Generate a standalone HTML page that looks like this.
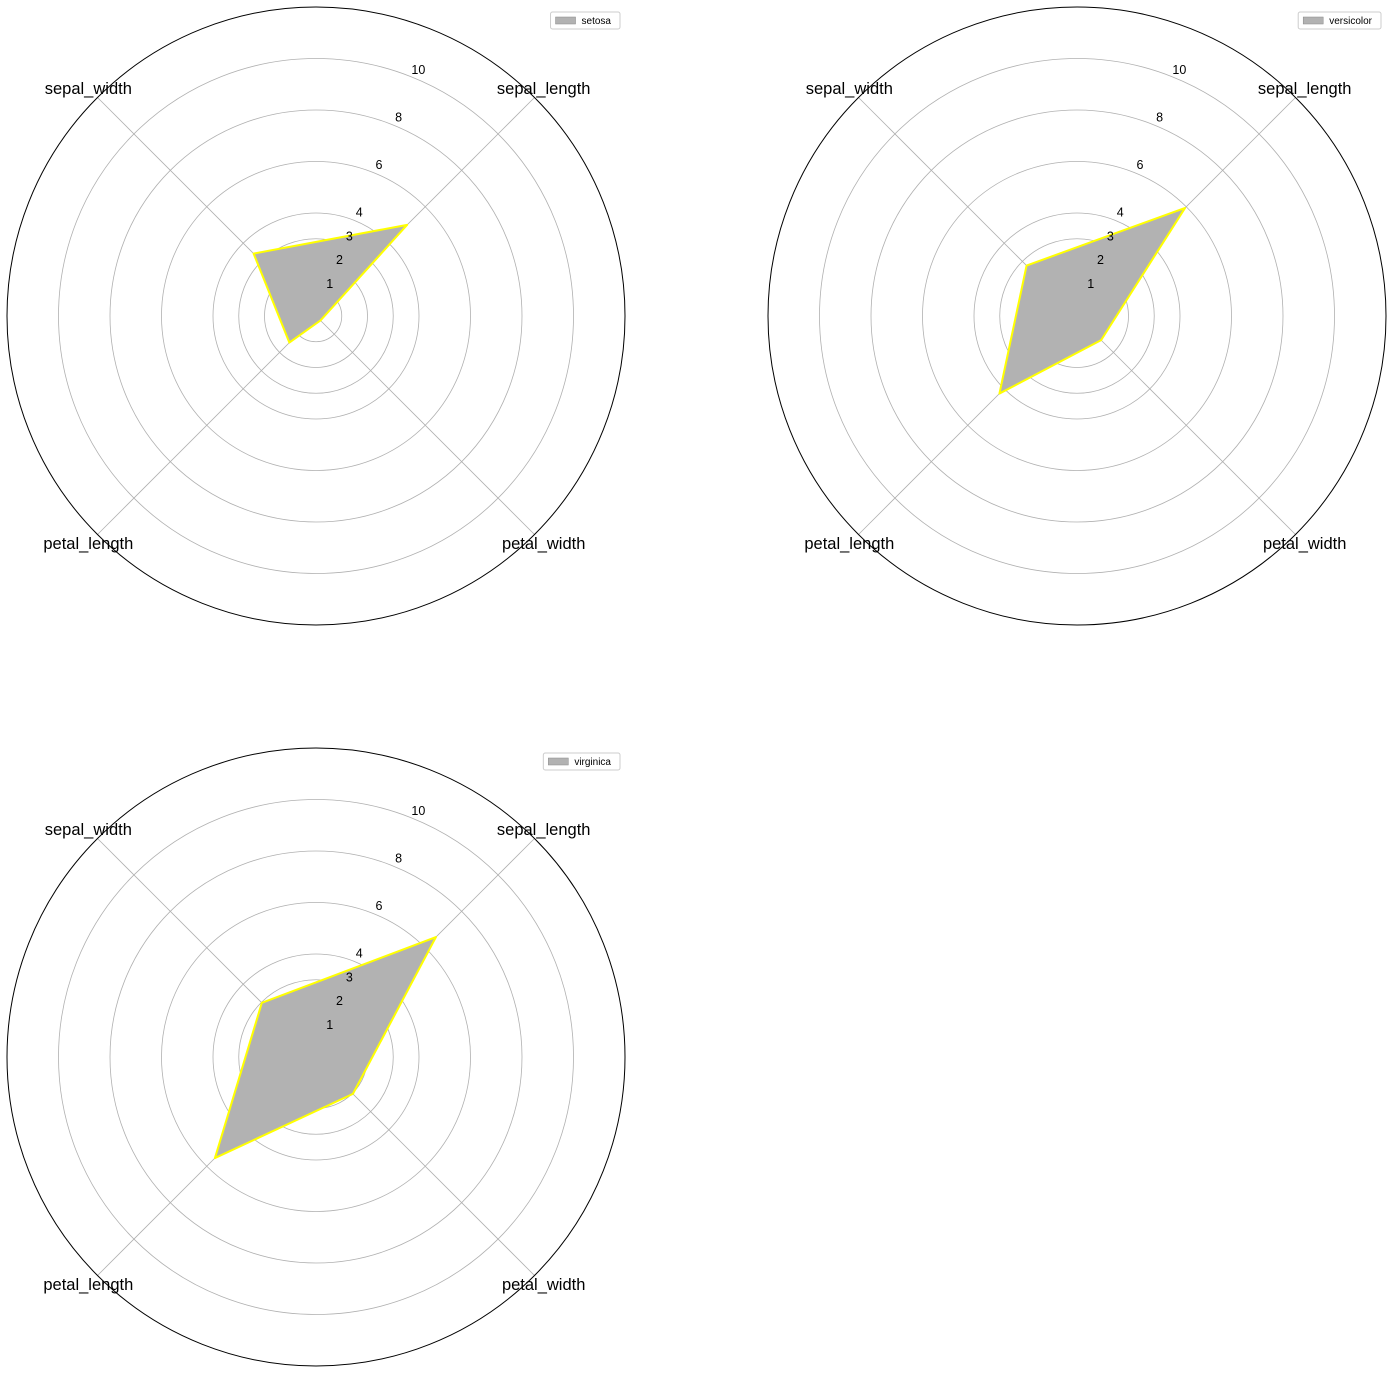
<!DOCTYPE html>
<html><head><meta charset="utf-8"><style>
html,body{margin:0;padding:0;background:#fff;}
svg{display:block;font-family:"Liberation Sans",sans-serif;}
</style></head><body>
<svg id="chart" width="1393" height="1373" viewBox="0 0 1393 1373" xmlns="http://www.w3.org/2000/svg"></svg>
<script>
const categories = ["sepal_length","sepal_width","petal_length","petal_width"];
const species = ["setosa","versicolor","virginica"];
const setosaValues = [5.006, 3.428, 1.462, 0.246];
const versicolorValues = [5.936, 2.770, 4.260, 1.326];
const virginicaValues = [6.588, 2.974, 5.552, 2.026];
const tickValues = [1,2,3,4,6,8,10];
const tickLabels = ["1","2","3","4","6","8","10"];
const rMax = 12;

const svg = document.getElementById('chart');
const NS = "http://www.w3.org/2000/svg";
function mk(tag, attrs, parent){const e=document.createElementNS(NS,tag);for(const k in attrs)e.setAttribute(k,attrs[k]);parent.appendChild(e);return e;}
const R = 309;
function rScale(v){return v/rMax*R;}
function angleFor(i){return (45 + 90*i)*Math.PI/180;}
function pt(cx,cy,v,i){const a=angleFor(i);return [cx+rScale(v)*Math.cos(a), cy-rScale(v)*Math.sin(a)];}

const panels = [
 {cx:316, cy:316, name:species[0], vals:setosaValues},
 {cx:1077, cy:316, name:species[1], vals:versicolorValues},
 {cx:316, cy:1057, name:species[2], vals:virginicaValues}
];
panels.forEach(p=>{
  const g = mk('g',{},svg);
  
  
  tickValues.forEach((t,k)=>{
    const c = mk('circle',{cx:p.cx,cy:p.cy,r:rScale(t),fill:'none',stroke:'#b0b0b0','stroke-width':0.8},g);
    
    
  });
  categories.forEach((c,i)=>{
    const [x,y]=pt(p.cx,p.cy,rMax,i);
    const l = mk('line',{x1:p.cx,y1:p.cy,x2:x,y2:y,stroke:'#b0b0b0','stroke-width':0.8},g);
    
    
  });
  const pts = p.vals.map((v,i)=>pt(p.cx,p.cy,v,i).map(n=>n.toFixed(2)).join(',')).join(' ');
  const poly = mk('polygon',{points:pts,fill:'#b2b2b2',stroke:'#ffff00','stroke-width':2,'stroke-linejoin':'round'},g);
  
  
  tickValues.forEach((t,k)=>{
    const a = 67.5*Math.PI/180;
    const rr = rScale(t)+10;
    const tx = mk('text',{x:p.cx+rr*Math.cos(a),y:p.cy-rr*Math.sin(a)+5,'font-size':12.5,'text-anchor':'middle',fill:'#000'},g);
    tx.textContent = tickLabels[k];
    
    
  });
  const outer = mk('circle',{cx:p.cx,cy:p.cy,r:R,fill:'none',stroke:'#000','stroke-width':1},g);
  
  
  categories.forEach((c,i)=>{
    const a=angleFor(i);
    const lr = 322;
    const lx=p.cx+lr*Math.cos(a), ly=p.cy-lr*Math.sin(a);
    const t = mk('text',{x:lx,y:ly+5.5,'font-size':16.5,'text-anchor':'middle',fill:'#000'},g);
    t.textContent=c;
    
    
  });
  const lg = mk('g',{},g);
  
  
  const box = mk('rect',{x:0,y:p.cy-304,width:10,height:17,fill:'#fff',stroke:'#ccc','stroke-width':1,rx:2},lg);
  const patch = mk('rect',{x:0,y:p.cy-299,width:20,height:7,fill:'#b2b2b2',stroke:'#888','stroke-width':0.5},lg);
  const lt = mk('text',{x:0,y:p.cy-292,'font-size':10,fill:'#000'},lg);
  lt.textContent=p.name;
  const tl = lt.getComputedTextLength();
  const w = tl+40;
  const lx = p.cx+304-w;
  box.setAttribute('x',lx); box.setAttribute('width',w);
  patch.setAttribute('x',lx+5);
  lt.setAttribute('x',lx+31);
});
</script>
</body></html>
